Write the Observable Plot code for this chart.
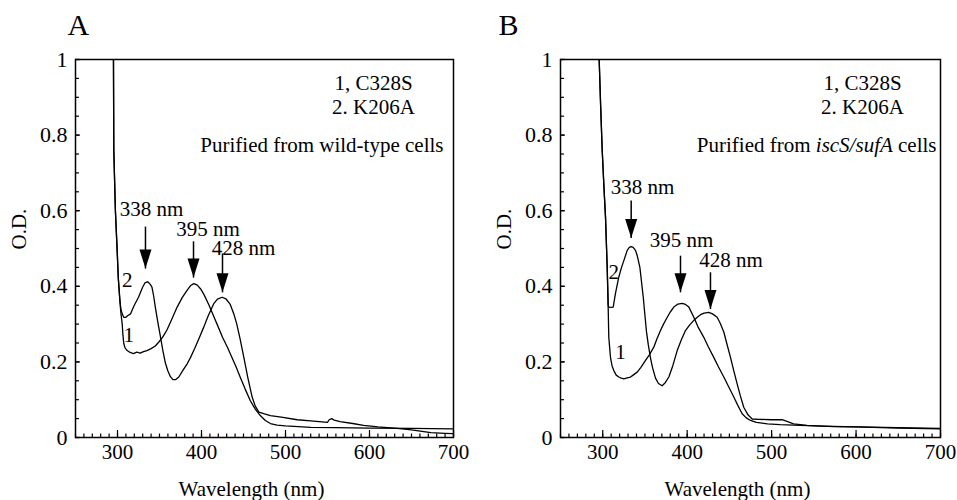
<!DOCTYPE html>
<html>
<head>
<meta charset="utf-8">
<script src="https://cdn.jsdelivr.net/npm/d3@7"></script>
<script src="https://cdn.jsdelivr.net/npm/@observablehq/plot@0.6"></script>
<style>
  html, body { margin: 0; padding: 0; background: white; }
  #wrap { display: flex; width: 957px; height: 500px; }
  #wrap svg text { font-family: 'Liberation Serif', 'Times New Roman', serif; font-variant: normal; }
</style>
</head>
<body>
<div id="wrap"></div>
<script>
// ---------- DATA (wavelength nm, O.D.) ----------
const panelA_C328S = [[295.2,1.0],[295.6,0.76],[297.5,0.6],[299.6,0.495],[301,0.42],[302.8,0.362],[304,0.33],[305.6,0.30],[306.5,0.27],[307.5,0.248],[309,0.237],[311.5,0.23],[315,0.225],[319,0.222],[323,0.226],[327,0.223],[331,0.227],[335,0.23],[340,0.235],[345,0.242],[349,0.252],[354,0.266],[359,0.285],[365,0.315],[371,0.345],[377,0.37],[383,0.39],[387,0.402],[391,0.407],[395,0.403],[399,0.393],[403,0.378],[409,0.35],[415,0.318],[420,0.292],[425,0.265],[431,0.238],[436,0.213],[441,0.188],[446,0.16],[452,0.128],[458,0.098],[464,0.075],[470,0.058],[476,0.045],[482,0.037],[490,0.033],[500,0.031],[515,0.029],[530,0.027],[560,0.026],[600,0.025],[650,0.024],[700,0.023]];
const panelA_K206A = [[295.2,1.0],[295.6,0.76],[297.5,0.6],[299.6,0.495],[301,0.42],[302.8,0.365],[304,0.34],[305.6,0.327],[307.5,0.318],[310,0.318],[312,0.322],[315.5,0.327],[318,0.34],[320,0.35],[325,0.371],[330,0.398],[333,0.41],[336,0.412],[339,0.405],[341,0.398],[343,0.375],[345,0.345],[348,0.305],[351,0.268],[354,0.23],[357,0.197],[360,0.176],[363,0.161],[366,0.153],[369,0.153],[373,0.16],[378,0.178],[383,0.195],[387,0.212],[392,0.236],[397,0.262],[402.7,0.292],[408,0.322],[414.6,0.354],[419,0.366],[424.6,0.371],[429,0.367],[434,0.353],[438.5,0.327],[442,0.3],[446,0.26],[450.4,0.212],[455,0.16],[460.3,0.107],[464,0.083],[468.3,0.067],[474,0.063],[482,0.058],[495,0.054],[514,0.047],[530,0.044],[550,0.04],[552,0.047],[555,0.05],[558,0.046],[565,0.042],[580,0.037],[593,0.032],[610,0.028],[633,0.024],[650,0.02],[673,0.013],[690,0.011],[700,0.01]];

const panelB_C328S = [[295.8,1.0],[297.5,0.88],[299.4,0.76],[301.5,0.66],[303.3,0.583],[305.3,0.45],[306.5,0.34],[307.2,0.265],[309.2,0.212],[311,0.19],[313.1,0.177],[316,0.165],[319,0.16],[322,0.157],[325,0.155],[329,0.158],[332.9,0.16],[336,0.165],[340.8,0.173],[345,0.185],[350.7,0.204],[355,0.218],[360.5,0.239],[364,0.26],[368.4,0.283],[372,0.3],[376.4,0.318],[380,0.332],[384.2,0.345],[389,0.353],[394.1,0.355],[398,0.352],[402,0.345],[407.9,0.318],[413,0.292],[419.7,0.265],[425,0.24],[431.5,0.212],[437,0.187],[443.4,0.16],[449,0.135],[455.2,0.107],[460,0.085],[465.1,0.063],[470,0.052],[475,0.045],[482,0.04],[495,0.036],[510,0.034],[534,0.032],[560,0.03],[600,0.028],[650,0.026],[700,0.024]];
const panelB_K206A = [[295.8,1.0],[297.5,0.88],[299.4,0.76],[301.5,0.66],[303.3,0.583],[305.3,0.45],[306.5,0.35],[307.2,0.345],[310,0.344],[312.4,0.345],[315,0.38],[319,0.424],[322,0.448],[325,0.468],[329,0.495],[331.5,0.503],[333.7,0.505],[336,0.503],[338.8,0.495],[341,0.48],[344,0.45],[348,0.371],[351.8,0.28],[354,0.245],[356.6,0.21],[359,0.185],[362.5,0.157],[366,0.143],[370.4,0.137],[374,0.145],[378.3,0.16],[383,0.19],[388.2,0.23],[393,0.258],[398,0.283],[403,0.298],[407.9,0.31],[412,0.318],[415.8,0.325],[420,0.329],[425.6,0.331],[430,0.327],[435.5,0.318],[439,0.303],[443.4,0.279],[447,0.248],[451.3,0.212],[455,0.178],[459.2,0.142],[463,0.11],[467,0.08],[472,0.06],[477,0.049],[485,0.048],[500,0.047],[512.5,0.047],[519,0.042],[526,0.036],[534,0.034],[542,0.032],[560,0.03],[573.6,0.029],[600,0.028],[650,0.025],[700,0.023]];

// tick values
const xLabelTicks = [300, 400, 500, 600, 700];
const xMajorTicks = [300, 400, 500, 600, 700];
const yLabelTicks = [0, 0.2, 0.4, 0.6, 0.8, 1];

// annotations
const legendText = "1, C328S\n2. K206A";
const legendOD = 0.857;
const noteA = "Purified from wild-type cells";
const noteB = "Purified from iscS/sufA cells";
const noteOD = 0.754;

const peaksA = [
  {label: "338 nm", tx: 340.5, ty: 0.585, x: 333.3, tail: 0.558, tip: 0.447},
  {label: "395 nm", tx: 407.7, ty: 0.534, x: 390.5, tail: 0.519, tip: 0.423},
  {label: "428 nm", tx: 450.0, ty: 0.484, x: 425.0, tail: 0.487, tip: 0.384}
];
const peaksB = [
  {label: "338 nm", tx: 347.1, ty: 0.643, x: 333.7, tail: 0.627, tip: 0.528},
  {label: "395 nm", tx: 393.3, ty: 0.505, x: 392.1, tail: 0.481, tip: 0.384},
  {label: "428 nm", tx: 451.9, ty: 0.450, x: 427.6, tail: 0.437, tip: 0.340}
];
const curveLabelsA = [{t: "2", x: 311.5, y: 0.415}, {t: "1", x: 313.5, y: 0.27}];
const curveLabelsB = [{t: "2", x: 313.1, y: 0.437}, {t: "1", x: 321, y: 0.226}];

// ---------- DRAWING ----------
const toRows = (arr) => arr.map(([nm, od]) => ({nm, od}));
const arrowHead = {draw(ctx) { ctx.moveTo(0, 0); ctx.lineTo(-6, -19); ctx.lineTo(6, -19); ctx.closePath(); }};
const fmtY = d => String(+d.toFixed(1));
const font = "'Liberation Serif', 'Times New Roman', serif";

function panel({letter, width, marginLeft, marginRight, c1, c2, peaks, curveLabels, note, legendX, noteX, letterDx, labelDx, odDx}) {
  return Plot.plot({
    width, height: 500,
    marginTop: 59, marginBottom: 63, marginLeft, marginRight,
    style: {fontFamily: font, fontSize: "21px", color: "black", background: "white", overflow: "visible"},
    x: {domain: [250, 700], label: null},
    y: {domain: [0, 1], label: null},
    marks: [
      // minor & major ticks (inward)
      Plot.axisX(d3.range(250, 701, 10), {tickSize: -3.5, fill: "none", label: null, strokeWidth: 1.2}),
      Plot.axisX(xMajorTicks, {tickSize: -7, fill: "none", label: null, strokeWidth: 1.2}),
      Plot.axisX(xLabelTicks, {tickSize: 0, tickPadding: 7, tickFormat: d => String(d), label: null, fontSize: 21, fontFamily: font}),
      Plot.axisY(d3.range(0, 21).map(i => i / 20), {tickSize: -4, fill: "none", label: null, strokeWidth: 1.2}),
      Plot.axisY(yLabelTicks, {tickSize: -5, fill: "none", label: null, strokeWidth: 1.2}),
      Plot.axisY(yLabelTicks, {tickSize: 0, tickPadding: 8, tickFormat: fmtY, label: null, fontSize: 22, fontFamily: font}),
      Plot.frame({stroke: "black", strokeWidth: 1.5}),
      // curves
      Plot.line(toRows(c1), {x: "nm", y: "od", stroke: "black", strokeWidth: 1.3, clip: true}),
      Plot.line(toRows(c2), {x: "nm", y: "od", stroke: "black", strokeWidth: 1.3, clip: true}),
      // peak arrows
      Plot.link(peaks, {x1: "x", x2: "x", y1: "tail", y2: "tip", stroke: "black", strokeWidth: 1.5}),
      Plot.dot(peaks, {x: "x", y: "tip", symbol: arrowHead, fill: "black", stroke: "none", r: 5}),
      Plot.text(peaks, {x: "tx", y: "ty", text: "label", lineAnchor: "bottom", fontSize: 21, fontFamily: font}),
      Plot.text(curveLabels, {x: "x", y: "y", text: "t", fontSize: 21, fontFamily: font}),
      // legend & note
      Plot.text([legendText], {x: () => legendX, y: () => legendOD, text: d => d, lineAnchor: "bottom", lineHeight: 1.1, fontSize: 21, fontFamily: font}),
      Plot.text([note], {x: () => noteX, y: () => noteOD, text: d => d, textAnchor: "end", lineAnchor: "bottom", fontSize: 21, fontFamily: font}),
      // panel letter & axis labels
      Plot.text([letter], {frameAnchor: "top-left", text: d => d, dx: letterDx, dy: -25, textAnchor: "start", lineAnchor: "bottom", fontSize: 30, fontFamily: font}),
      Plot.text(["Wavelength (nm)"], {frameAnchor: "bottom", text: d => d, dx: labelDx, dy: 58, lineAnchor: "bottom", fontSize: 21, fontFamily: font}),
      Plot.text(["O.D."], {frameAnchor: "left", text: d => d, rotate: -90, dx: odDx, dy: 1, fontSize: 21, fontFamily: font})
    ]
  });
}

const svgA = panel({
  letter: "A", width: 478, marginLeft: 75, marginRight: 25,
  c1: panelA_C328S, c2: panelA_K206A, peaks: peaksA, curveLabels: curveLabelsA,
  note: noteA, legendX: 604.8, noteX: 688.1, letterDx: -8, labelDx: -13, odDx: -56
});
const svgB = panel({
  letter: "B", width: 479, marginLeft: 82, marginRight: 17,
  c1: panelB_C328S, c2: panelB_K206A, peaks: peaksB, curveLabels: curveLabelsB,
  note: noteB, legendX: 607.6, noteX: 695.3, letterDx: -62, labelDx: -13, odDx: -56
});

// italicise the gene names in panel B's note
svgB.querySelectorAll("text").forEach(t => {
  if (t.textContent === noteB) {
    t.textContent = "";
    const parts = [["Purified from ", null], ["iscS/sufA", "italic"], [" cells", null]];
    for (const [s, st] of parts) {
      const ts = document.createElementNS("http://www.w3.org/2000/svg", "tspan");
      ts.textContent = s;
      if (st) ts.setAttribute("font-style", st);
      t.appendChild(ts);
    }
  }
});

const wrap = document.getElementById("wrap");
wrap.appendChild(svgA);
wrap.appendChild(svgB);
</script>
</body>
</html>
